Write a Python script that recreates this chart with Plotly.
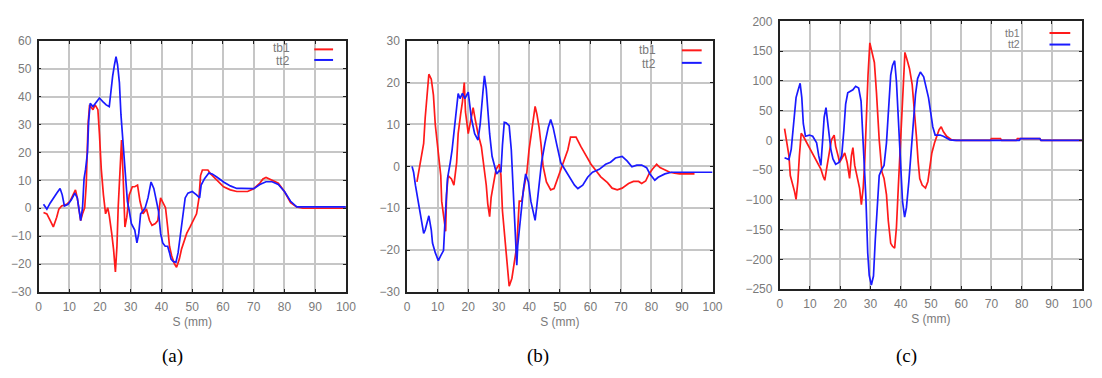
import plotly.graph_objects as go

W, H = 1102, 378

# ---------------- data ----------------
# (a)
s_a_tb1 = [1.6, 2.7, 3.8, 4.8, 5.9, 6.6, 7.5, 9.1, 10.2, 11.3, 12, 12.6, 13.2, 13.7, 14.3, 15, 15.5, 16.1, 16.6,
           17.7, 18.4, 19.3, 19.8, 20.4, 21.1, 21.8, 22.5, 23, 23.8, 24.4, 25, 25.5, 25.9, 26.5, 27, 27.5, 28.1,
           28.7, 29.5, 30.5, 31.3, 32.2, 33, 34, 35.1, 36.1, 36.9, 38, 38.8, 39.7, 40.4, 41.3, 42, 42.6, 43.3,
           44.2, 44.9, 45.8, 46.5, 47.4, 48.2, 49.3, 50.4, 51.4, 52.2, 52.7, 53.3, 55.1, 56, 58.1, 60.2, 62.4,
           64.5, 66, 68, 70, 72, 73, 74, 76, 78, 80, 82, 84, 86, 88, 100]
v_a_tb1 = [-1.5, -2, -4.4, -6.7, -3.2, -0.3, 0.8, 1.4, 2.5, 4.8, 6.6, 3.7, -0.9, -4.4, -2, 0.2, 8.3, 30, 37,
           35.3, 37, 35.3, 26.7, 14, 4.8, -2, 0.2, -2.6, -9, -14.7, -22.8, -13.6, 0.2, 14, 24.4, 11.7, -6.7,
           -3.2, 4.8, 7.7, 7.7, 8.3, 2.5, -2, -0.3, -4.4, -6.1, -5.5, -4.4, 3.7, 1.9, 0.2, -6.7, -13.6, -17,
           -19.9, -21.1, -18.2, -14.7, -11.3, -9, -6.7, -4.4, -2, 3.7, 11.7, 13.7, 13.7, 12.3, 10, 7.7, 6.6,
           6, 6, 6, 7, 9, 10.5, 11, 10, 9, 6, 2, 0.5, 0, 0, 0]
s_a_tt2 = [1.6, 2.7, 3.8, 4.8, 5.9, 7, 7.7, 8.4, 9.6, 10.7, 11.8, 12.6, 13.2, 13.7, 14.3, 14.8, 15.3, 15.9,
           16.3, 16.8, 17.7, 18.8, 19.8, 20.9, 22, 23, 23.6, 24.1, 24.7, 25.2, 25.7, 26.3, 26.8, 27.3, 27.9,
           28.4, 28.9, 29.5, 30.2, 31.3, 32, 32.6, 33.2, 34, 34.7, 35.6, 36.1, 36.6, 37.5, 38.2, 39, 39.7,
           40.4, 41.2, 42, 42.6, 43.1, 43.8, 44.7, 45.4, 46, 46.6, 47.1, 47.7, 48.6, 50, 51.4, 52.4, 52.9, 54,
           55.4, 56.5, 58.1, 60.2, 62.4, 64.5, 66, 68, 70, 72, 74, 76, 78, 80, 82, 84, 86, 100]
v_a_tt2 = [1.4, -0.3, 1.9, 3.7, 5.4, 7.1, 4.8, 0.8, 1.4, 3.1, 5.4, 3.7, -2, -4.4, 0.2, 10.6, 14, 19.8,
           31.3, 37.6, 36.4, 38.2, 39.5, 38.2, 37, 36.4, 42.7, 47.3, 51.4, 54.3, 51.4, 45, 33.6, 25.5, 16.3,
           7.1, 2.5, -0.9, -5.5, -7.8, -12.4, -9, -2, -0.9, 0.2, 3.7, 7.1, 9.4, 7.1, 3.7, -0.9, -9,
           -12.4, -13.6, -13.6, -15.9, -18.2, -19.1, -19.3, -15.9, -10.2, -5.5, -0.9, 3.7, 5.4, 6, 4.8, 3.7, 8.3, 10.6,
           12.6, 12.3, 11.1, 9.4, 8, 7.1, 7.1, 7, 7, 8.5, 9.5, 9.5, 8.5, 6, 2.5, 0.5, 0.5, 0.5]

# (b)
s_b_tb1 = [3.2, 4.3, 5.4, 5.9, 6.7, 7.1, 7.9, 8.6, 9.2, 10.2, 11, 11.3, 12, 12.6, 12.9, 13.4, 14.5, 15.3, 16.2,
           16.7, 17.5, 18.1, 18.7, 19.1, 20, 20.7, 21.6, 22.2, 23.2, 24.3, 25.3, 25.9, 26.4, 27, 27.5, 28.3,
           29.1, 30.2, 30.7, 31.2, 32, 32.7, 33.4, 34.3, 35, 35.9, 36.7, 37.5, 38.6, 39.2, 39.9, 40.5, 41.3,
           41.9, 42.5, 43.2, 43.8, 44.5, 45.6, 47, 48.1, 49.2, 50.5, 51.6, 52.6, 53.5, 55.3, 56.9, 58.6, 60.2,
           61.8, 63.4, 65.6, 67.1, 68.8, 70.4, 72.5, 74.1, 75.8, 76.8, 78.1, 79.2, 80.3, 81.7, 82.8, 84.4, 86,
           87.6, 89.2, 92.5, 94.1]
v_b_tb1 = [-3.7, 0.9, 5.5, 11.6, 18.5, 22, 20.8, 17, 10, 4, -2.2, -8.3, -12.9, -15.5, -6.8, -2.2, -3, -4.5, 0.9,
           7.8, 12.4, 15.4, 20, 13, 7.8, 10.8, 14, 11.5, 7.8, 4.7, -0.7, -4.5, -9, -12, -7.4, -3.5,
           -0.7, 0.5, -2, -10.6, -17.5, -22.9, -28.6, -26.7, -22.9, -19, -8.3, -8.3, -3.7, -1.4, 3.9, 7, 12.4,
           14.3, 12.4, 9.3, 5.5, 0.1, -3.7, -5.6, -5.3, -3, -0.7, 1.6, 3.9, 7, 7, 4.7, 2.4, 0.5,
           -1, -2.5, -3.9, -5.2, -5.6, -5.2, -4.1, -3.6, -3.6, -4.1, -3.5, -1.8, -0.7, 0.5, -0.3, -0.9, -1.4,
           -1.6, -1.8, -1.8, -1.8]
s_b_tt2 = [1.6, 2.1, 2.7, 3.4, 4.1, 4.9, 5.4, 5.9, 6.7, 7.1, 7.9, 8.3, 9.2, 10.2, 11, 11.9, 12.4, 13.2, 14.1,
           14.7, 15.5, 16.2, 16.7, 17.3, 18.1, 18.9, 20, 21, 22.1, 23.2, 23.9, 24.8, 25.3, 25.9, 26.4, 27, 27.8,
           28.6, 29.3, 30.2, 30.7, 31.2, 31.8, 32.4, 33.4, 34.1, 34.8, 35.4, 35.9, 36.2, 37, 37.5, 38.1, 38.8,
           39.7, 40.5, 41.3, 41.9, 42.4, 43.2, 44, 45.1, 46.2, 47, 47.8, 48.9, 50.3, 51.6, 53.2, 54.8, 55.9,
           57.5, 59.1, 60.7, 62.9, 65, 66.6, 68.2, 70.4, 72, 73.6, 75.2, 76.8, 78.4, 79.5, 81.1, 82.2, 84.4,
           86.5, 88.7, 100]
v_b_tt2 = [0, -1.4, -4.5, -7.5, -11.4, -14.5, -16, -15.2, -13.3, -11.8, -15.2, -18.3, -20.6, -22.5, -21.3, -20.1,
           -12.9, -2.9, 0.9, 3.9, 9.3, 14.7, 17.4, 16.2, 17.4, 16.2, 17.7, 11.6, 7.8, 6.3, 10, 17.7, 21.6, 18.5,
           12.4, 7.8, 2.4, 0.1, -1.8, -1, -1.4, 5, 10.5, 10.4, 9.7, 3.9, -6.8, -17.5, -23.6, -19, -12.9, -8.3,
           -5.3, -1.8, -3.7, -8.3, -10.6, -12.9, -9.8, -3.7, 0.9, 5.5, 9.3, 11.2, 9.3, 5.5, 0.9, -0.7, -2.6,
           -4.5, -5.3, -4.5, -2.6, -1.4, -0.7, 0.5, 1, 2, 2.4, 1.3, -0.1, 0.3, 0.3, -0.3, -1.8, -3.3, -2.6,
           -1.8, -1.4, -1.4, -1.4]

# (c)
s_c_tb1 = [1.6, 2.4, 3.05, 3.5, 4.4, 4.9, 5.4, 6, 6.5, 7.1, 7.8, 9.3, 10.3, 11.4, 12.5, 13.6, 14.4, 14.9, 15.5,
           16.3, 17.1, 18, 18.5, 19.3, 19.8, 20.7, 21.5, 22.3, 23.1, 23.7, 24.2, 24.8, 25.6, 26.4, 27, 27.6,
           28.1, 28.6, 29.2, 29.8, 30.5, 31.3, 32, 32.9, 33.8, 34.5, 35.3, 35.9, 36.7, 37.3, 38, 38.6, 39.2,
           39.8, 40.3, 40.9, 41.4, 42.2, 42.9, 43.8, 44.6, 45.2, 45.8, 46.3, 47.1, 48.2, 49, 49.6, 50.3, 51.2,
           52, 52.7, 53.4, 54.1, 55.2, 56.9, 58.5, 69.6, 70, 73, 73.4, 78.2, 78.6, 86, 86.4, 100]
v_c_tb1 = [20, -4, -26, -59, -75, -86, -99, -69, -26, 12, 7, -7, -18, -26, -37, -48, -61, -67, -48,
           -21, 1, 9, -10, -26, -37, -29, -21, -37, -64, -26, -12, -42, -64, -80, -108, -80,
           -37, 39, 110, 164, 148, 131, 80, 1, -53, -64, -91, -135, -173, -178, -181, -146, -80,
           -15, 39, 104, 148, 134, 121, 94, 50, 7, -37, -64, -75, -80, -69, -42, -21, -4,
           7, 18, 23, 15, 7, 1, 0, 0, 3, 3, 0, 0, 3, 3, 0, 0]
s_c_tt2 = [1.6, 3.05, 3.8, 4.4, 4.9, 5.4, 6, 6.75, 7.3, 7.8, 8.5, 9.8, 10.9, 12.2, 12.9, 13.6, 14.2, 14.7, 15.3,
           16, 16.9, 17.6, 18.5, 19.6, 20.5, 21.2, 21.8, 22.5, 23.4, 24.2, 25.1, 26.1, 26.9, 27.5, 28, 28.5,
           29.1, 29.6, 30.3, 31, 31.6, 32.2, 32.9, 33.8, 34.5, 35.3, 35.9, 36.7, 37.3, 38, 38.6, 39.2, 39.8,
           40.6, 41.3, 41.9, 42.7, 43.5, 44.1, 44.9, 45.6, 46.5, 47.6, 48.5, 49.2, 50, 50.6, 51.4, 53, 54.1,
           55.2, 56.3, 57.9, 79.2, 79.6, 86, 86.4, 100]
v_c_tt2 = [-29, -32, -15, 17, 50, 72, 83, 96, 72, 28, 7, 9, 7, -4, -26, -42, 1, 39, 55,
           23, -15, -31, -40, -37, -26, 17, 61, 80, 83, 85, 91, 88, 66, 12, -42, -97,
           -189, -227, -243, -228, -167, -108, -59, -48, -42, -4, 50, 110, 126, 134, 99, 39, -26,
           -102, -129, -113, -69, -15, 28, 77, 104, 115, 107, 88, 72, 44, 23, 9, 9, 7,
           4, 1, 0, 0, 3, 3, 0, 0]

series_names = ["tb1", "tt2"]
captions = ["(a)", "(b)", "(c)"]
y_ranges = [[-30, 60], [-30, 30], [-250, 200]]
y_dticks = [10, 10, 50]
x_range = [0, 100]
x_dtick = 10
x_title = "S (mm)"

RED = "#ff1a1a"
BLUE = "#1a1aff"

# panel geometry in pixels: left, right, top, bottom
panels = [(36, 347, 35, 296), (409, 718, 35, 296), (786, 1092, 15, 293)]
caption_x = [172, 541, 914]
caption_y = 362


def px(x):
    return x / W


def py(y):
    return 1 - y / H


data_sets = [
    (s_a_tb1, v_a_tb1, s_a_tt2, v_a_tt2),
    (s_b_tb1, v_b_tb1, s_b_tt2, v_b_tt2),
    (s_c_tb1, v_c_tb1, s_c_tt2, v_c_tt2),
]

fig = go.Figure()
layout = dict(
    width=W, height=H, margin=dict(l=0, r=0, t=0, b=0),
    paper_bgcolor="white", plot_bgcolor="white", showlegend=False,
)

tick_font = dict(family="Liberation Sans, Arial, sans-serif", size=12, color="#7a7a7a")
shapes = []
annotations = []

# legend geometry (pixels): text right x, line x0, x1, y rows, white box, font size
legends = [
    dict(tx=292, lx0=315, lx1=334, ty=[43, 56], ly=[44, 55], box=(236, 345, 37, 61), fs=12),
    dict(tx=663, lx0=687, lx1=707, ty=[45, 59], ly=[45, 58], box=(606, 716, 37, 65), fs=12),
    dict(tx=1031, lx0=1059, lx1=1080, ty=[26.5, 38], ly=[27, 39], box=(980, 1090, 17, 43), fs=10.5),
]

for i, (sb, vb, st, vt) in enumerate(data_sets):
    n = "" if i == 0 else str(i + 1)
    l, r, t, b = panels[i]
    xa = "x" + n
    ya = "y" + n
    fig.add_trace(go.Scatter(x=sb, y=vb, mode="lines", name=series_names[0],
                             line=dict(color=RED, width=1.7), xaxis=xa, yaxis=ya))
    fig.add_trace(go.Scatter(x=st, y=vt, mode="lines", name=series_names[1],
                             line=dict(color=BLUE, width=1.7), xaxis=xa, yaxis=ya))
    common = dict(
        showgrid=True, gridcolor="#c6c6c6", gridwidth=1.6,
        showline=True, linecolor="#222222", linewidth=1.7, mirror="ticks",
        ticks="inside", ticklen=3, tickcolor="#222222", tickwidth=1,
        zeroline=False, tickfont=tick_font, ticklabelstandoff=3,
    )
    layout["xaxis" + n] = dict(
        common, domain=[px(l), px(r)], anchor=ya, range=x_range, dtick=x_dtick, tick0=0,
        title=dict(text=x_title, font=tick_font, standoff=4),
    )
    layout["yaxis" + n] = dict(
        common, domain=[py(b), py(t)], anchor=xa, range=y_ranges[i], dtick=y_dticks[i], tick0=0,
    )
    lg = legends[i]
    bx0, bx1, by0, by1 = lg["box"]
    shapes.append(dict(type="rect", xref="paper", yref="paper", x0=px(bx0), x1=px(bx1),
                       y0=py(by1), y1=py(by0), fillcolor="white", line=dict(width=0), layer="between"))
    lfont = dict(tick_font, size=lg["fs"])
    for k, (name, col) in enumerate(zip(series_names, [RED, BLUE])):
        annotations.append(dict(text=name, xref="paper", yref="paper", x=px(lg["tx"]), y=py(lg["ty"][k]),
                                xanchor="right", yanchor="middle", showarrow=False, font=lfont))
        shapes.append(dict(type="line", xref="paper", yref="paper", x0=px(lg["lx0"]), x1=px(lg["lx1"]),
                           y0=py(lg["ly"][k]), y1=py(lg["ly"][k]), line=dict(color=col, width=2)))
    annotations.append(dict(text=captions[i], xref="paper", yref="paper", x=px(caption_x[i]),
                            y=py(caption_y), xanchor="center", yanchor="middle", showarrow=False,
                            font=dict(family="Liberation Serif, DejaVu Serif, serif", size=19, color="black")))

layout["shapes"] = shapes
layout["annotations"] = annotations
fig.update_layout(**layout)
fig.write_html("out.html")
